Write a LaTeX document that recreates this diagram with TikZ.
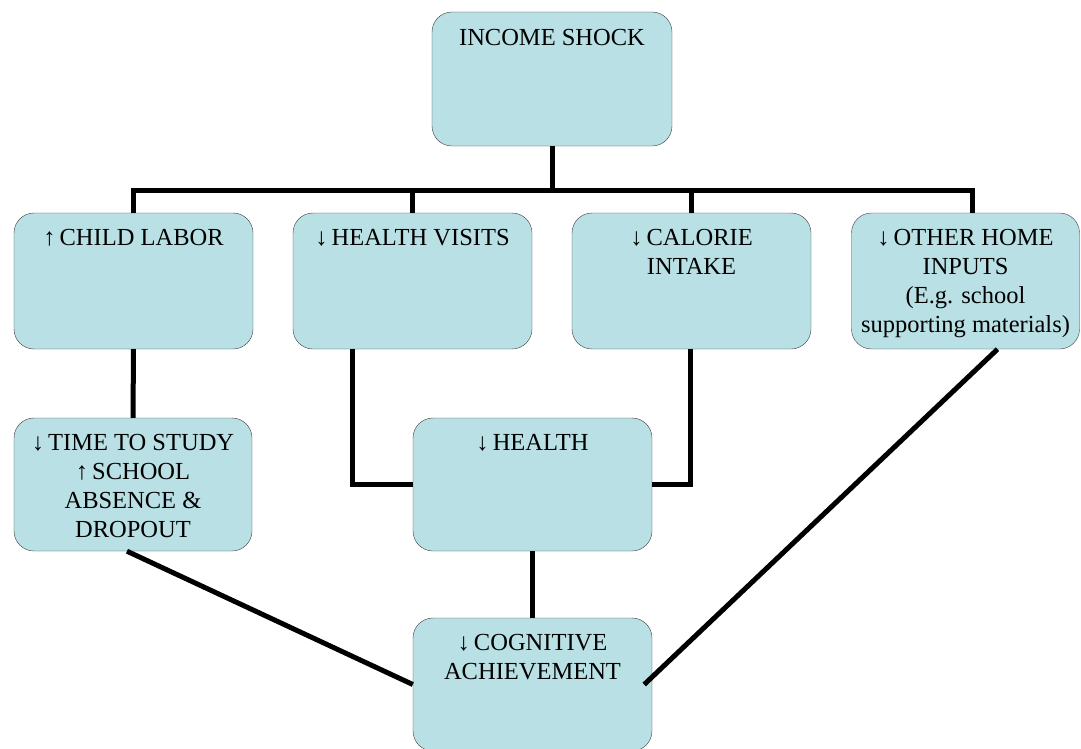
\documentclass[tikz,border=0pt]{standalone}
\usepackage{fontspec}
\setmainfont{Liberation Serif}
\usepackage{tikz}
\definecolor{boxfill}{RGB}{185,224,228}

\begin{document}
\begin{tikzpicture}[x=1pt,y=-1pt]
        \tikzstyle{every node} = [rectangle, rounded corners=20pt, draw=black!75, fill=boxfill, inner sep=0pt, font=\fontsize{24.5}{29}\selectfont]
        \tikzstyle{link} = [line width=5pt]
        \useasboundingbox (0,0) rectangle (1081,749);

        \node[minimum width=240pt, minimum height=134pt] (0) at (552,79) {\parbox[c][100pt][t]{228pt}{\centering INCOME SHOCK}};
        \node[minimum width=239pt, minimum height=136pt] (1) at (133.5,281) {\parbox[c][104pt][t]{228pt}{\centering ↑\,CHILD LABOR}};
        \node[minimum width=239pt, minimum height=136pt] (2) at (412.5,281) {\parbox[c][104pt][t]{228pt}{\centering ↓\,HEALTH VISITS}};
        \node[minimum width=239pt, minimum height=136pt] (3) at (691.5,281) {\parbox[c][104pt][t]{228pt}{\centering ↓\,CALORIE\\ INTAKE}};
        \node[minimum width=227pt, minimum height=136pt] (4) at (965.5,281) {\parbox[c][104pt][t]{228pt}{\centering ↓\,OTHER HOME\\ INPUTS\\ (E.g. school\\ supporting materials)}};
        \node[minimum width=238pt, minimum height=133pt] (5) at (133,484.5) {\parbox[c][101pt][t]{228pt}{\centering ↓\,TIME TO STUDY\\ ↑\,SCHOOL\\ ABSENCE \&\\ DROPOUT}};
        \node[minimum width=239pt, minimum height=133pt] (6) at (532.5,484.5) {\parbox[c][101pt][t]{228pt}{\centering ↓\,HEALTH}};
        \node[minimum width=239pt, minimum height=133pt] (7) at (532.5,684.5) {\parbox[c][101pt][t]{228pt}{\centering ↓\,COGNITIVE\\ ACHIEVEMENT}};

        \coordinate (bar) at (552,190);
        \draw[link] (0) -- (bar);
        \foreach \to in {1,2,3}
            \draw[link] (bar) -| (\to.north);
        \draw[link] (bar) -| ([xshift=6.5pt]4.north);

        \draw[link] (1) -- (5);
        \draw[link] ([xshift=-60.5pt]2.south) |- (6.west);
        \draw[link] ([xshift=-1.5pt]3.south) |- (6.east);
        \draw[link] (6) -- (7);
        \draw[link] ([xshift=-6pt]5.south) -- (7.west);
        \draw[link] ([xshift=32pt]4.south) -- ([xshift=-8pt]7.east);
\end{tikzpicture}
\end{document}
